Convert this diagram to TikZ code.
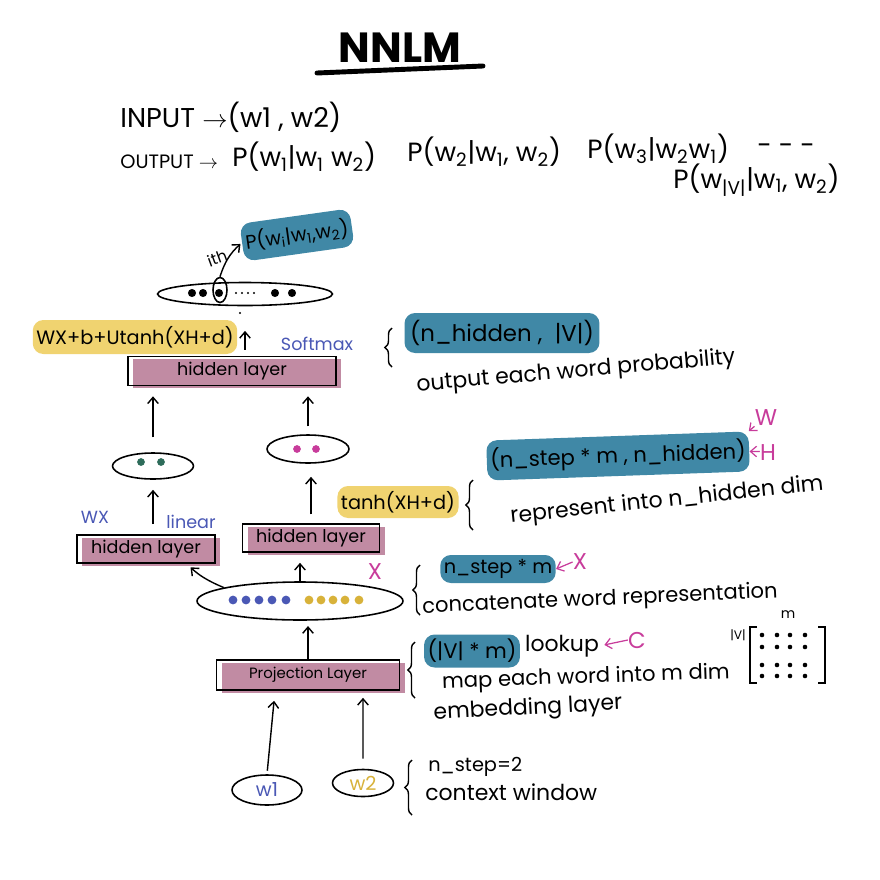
\documentclass[tikz,border=0pt]{standalone}
\usepackage{fontspec}
\setmainfont{Poppins}
\usetikzlibrary{arrows.meta, shapes.geometric, decorations.pathreplacing, positioning}
\definecolor{layerpink}{RGB}{193,139,163}
\definecolor{hlblue}{RGB}{64,136,166}
\definecolor{hlyellow}{RGB}{240,211,112}
\definecolor{penblue}{RGB}{74,88,181}
\definecolor{penyellow}{RGB}{216,178,58}
\definecolor{pengreen}{RGB}{46,108,90}
\definecolor{penmagenta}{RGB}{200,60,155}
\newcommand{\fsz}[1]{\fontsize{#1}{#1}\selectfont}
\tikzset{%
	arr/.style = { -{Straight Barb[length=3.5pt, width=6pt]}, line width=0.8pt },
	brace/.style = { decorate, decoration={brace, amplitude=4pt}, line width=0.8pt },
	layer/.style = { draw, line width=0.9pt, inner sep=0pt, font=\fsz{10},
		preaction={fill=layerpink, transform canvas={xshift=3pt, yshift=-1.5pt}} },
	vec/.style = { ellipse, draw, line width=0.9pt, inner sep=0pt },
	bluehl/.style = { fill=hlblue, rounded corners=6pt, inner sep=2pt },
	yellowhl/.style = { fill=hlyellow, rounded corners=6pt, inner sep=2pt },
	note/.style = { inner sep=0pt, font=\fsz{12.5} },
	pen/.style = { inner sep=0pt, font=\fsz{10}, text=penblue },
	tag/.style = { inner sep=0pt, font=\fsz{13}, text=penmagenta }
}

\begin{document}
\begin{tikzpicture}[x=0.02cm, y=-0.02cm]
	\useasboundingbox[fill=white] (0,0) rectangle (880,880);

	% 1. title
	\node[inner sep=0pt, font=\fsz{24}\bfseries] (title) at (400,48) {NNLM};
	\draw[line width=2.8pt, line cap=round] (317,73) -- (483,66);

	% 2. input / output
	\node[note, anchor=west, font=\fsz{15.5}] (input) at (120,117) {INPUT $\rightarrow$(w1 , w2)};
	\node[note, anchor=west, font=\fsz{11}] (outlab) at (120,162) {OUTPUT $\rightarrow$};
	\node[note, anchor=west, font=\fsz{15}] (p1) at (232,157) {P(w\textsubscript{1}|w\textsubscript{1} w\textsubscript{2})};
	\node[note, anchor=west, font=\fsz{15}] (p2) at (407,152) {P(w\textsubscript{2}|w\textsubscript{1}, w\textsubscript{2})};
	\node[note, anchor=west, font=\fsz{15}] (p3) at (587,149) {P(w\textsubscript{3}|w\textsubscript{2}w\textsubscript{1})};
	\node[note, anchor=west, font=\fsz{15}] (pdots) at (757,149) {- - -};
	\node[note, anchor=west, font=\fsz{15}] (pV) at (673,180) {P(w\textsubscript{|V|}|w\textsubscript{1}, w\textsubscript{2})};

	% 3. output vector
	\node[bluehl, rotate=8, minimum width=2cm, minimum height=0.76cm, font=\fsz{11}] (prob) at (297,235) {P(w\textsubscript{i}|w\textsubscript{1},w\textsubscript{2})};
	\node[vec, minimum width=3.5cm, minimum height=0.46cm] (topvec) at (245,294) {};
	\foreach \x in {192,203,219,275,292} \fill (\x,293) circle (2.3pt);
	\foreach \x in {236,242,248,254} \fill (\x,293) circle (0.6pt);
	\node[vec, minimum width=0.28cm, minimum height=0.5cm] (ith) at (220,290) {};
	\node[note, font=\fsz{9}, rotate=20] (ithlab) at (217,258) {ith};
	\draw[arr, shorten >=1pt] (ith.north) to[bend left=15] (prob.west);

	% 4. softmax layer
	\node[yellowhl, minimum width=3.8cm, minimum height=0.68cm, font=\fsz{11}] (score) at (135,337) {WX+b+Utanh(XH+d)};
	\node[pen] (softmax) at (317,344) {Softmax};
	\node[layer, minimum width=4.16cm, minimum height=0.58cm] (toplayer) at (232,371) {hidden layer};
	\draw[arr, shorten <=3.4pt, shorten >=14pt] (toplayer.north -| topvec.south) -- (topvec.south);
	\fill (240,313) circle (0.7pt);

	% 5. two hidden layers
	\node[vec, minimum width=1.62cm, minimum height=0.52cm] (leftvec) at (153,466) {};
	\node[vec, minimum width=1.64cm, minimum height=0.56cm] (rightvec) at (308,449) {};
	\foreach \x in {141,161} \fill[pengreen] (\x,462) circle (2.2pt);
	\foreach \x in {297,316} \fill[penmagenta] (\x,449) circle (2.2pt);
	\draw[arr, shorten <=8.5pt, shorten >=5.7pt] (leftvec.north) -- (leftvec.north |- toplayer.south);
	\draw[arr, shorten <=4.5pt, shorten >=5.7pt] (rightvec.north) -- (rightvec.north |- toplayer.south);

	\node[layer, minimum width=2.76cm, minimum height=0.56cm] (leftlayer) at (146,549) {hidden layer};
	\node[layer, minimum width=2.74cm, minimum height=0.56cm] (rightlayer) at (311,538) {hidden layer};
	\node[pen] (wx) at (95,517) {WX};
	\node[pen] (linear) at (191,522) {linear};
	\node[yellowhl, minimum width=2.38cm, minimum height=0.64cm, font=\fsz{11}] (tanh) at (398,502) {tanh(XH+d)};
	\draw[arr, shorten <=5.7pt, shorten >=5.7pt] (leftlayer.north -| leftvec.south) -- (leftvec.south);
	\draw[arr, shorten <=5pt, shorten >=7.4pt] (rightlayer.north) -- (rightlayer.north |- rightvec.south);

	% 6. concatenation
	\node[vec, minimum width=4.12cm, minimum height=0.76cm] (concat) at (300,601) {};
	\foreach \x in {233,246,259,272,286} \fill[penblue] (\x,600) circle (2.5pt);
	\foreach \x in {309,321,333,345,359} \fill[penyellow] (\x,600) circle (2.5pt);
	\node[tag] (xlab) at (375,572) {X};
	\draw[arr, shorten >=3pt] (concat.170) to[bend left=10] (leftlayer.-20);
	\draw[arr, shorten >=5.7pt] (concat.north) -- (concat.north |- rightlayer.south);

	% 7. projection and inputs
	\node[layer, minimum width=3.66cm, minimum height=0.6cm, font=\fsz{8.5}] (proj) at (308,675) {Projection Layer};
	\draw[arr, shorten >=3pt] (proj.north) -- (proj.north |- concat.south);
	\node[vec, minimum width=1.4cm, minimum height=0.6cm, font=\fsz{11}, text=penblue] (w1) at (267,790) {w1};
	\node[vec, minimum width=1.22cm, minimum height=0.54cm, font=\fsz{11}, text=penyellow] (w2) at (363,783) {w2};
	\draw[arr, shorten <=2pt, shorten >=5.7pt] (w1.north) -- ([xshift=-0.66cm]proj.south);
	\draw[arr, shorten <=5.7pt, shorten >=4pt] (w2.north) -- ([xshift=1.1cm]proj.south);

	% 8. notes on the right
	\draw[brace] (392,367) -- (392,328);
	\node[bluehl, minimum width=3.9cm, minimum height=0.8cm, font=\fsz{13}] (outdim) at (502,333) {(n\_hidden ,\; |V|)};
	\node[note, rotate=5] (outnote) at (576,372) {output each word probability};

	\node[bluehl, rotate=2, minimum width=4.8cm, minimum height=0.8cm, font=\fsz{12}] (hdim) at (618,456) {(n\_step * m , n\_hidden)};
	\node[tag] (wlab) at (766,418) {W};
	\node[tag] (hlab) at (768,453) {H};
	\draw[arr, penmagenta, line width=0.7pt] (wlab.south west) -- (hdim.north east);
	\draw[arr, penmagenta, line width=0.7pt] (hlab.170) -- (hdim.east);
	\draw[brace] (473,530) -- (473,480);
	\node[note, rotate=6] (hnote) at (667,501) {represent into n\_hidden dim};

	\draw[brace] (420,615) -- (420,565);
	\node[bluehl, minimum width=2.26cm, minimum height=0.56cm, font=\fsz{11}] (xdim) at (498,569) {n\_step * m};
	\node[tag] (xlab2) at (580,562) {X};
	\draw[arr, penmagenta, line width=0.7pt] (xlab2.west) -- (xdim.east);
	\node[note, rotate=2.5, font=\fsz{12}] (cnote) at (600,600) {concatenate word representation};

	\draw[brace] (415,698) -- (415,642);
	\node[bluehl, minimum width=1.82cm, minimum height=0.66cm, font=\fsz{12}] (cdim) at (472,651) {(|V| * m)};
	\node[note] (lookup) at (562,646) {lookup};
	\node[tag] (clab) at (637,640) {C};
	\draw[arr, penmagenta, line width=0.7pt, shorten >=3pt] (clab.west) -- (lookup.east);
	\node[note, rotate=2, font=\fsz{12}] (mapnote) at (586,678) {map each word into m dim};
	\node[note, rotate=3] (embnote) at (528,709) {embedding layer};
	% lookup matrix
	\draw[line width=0.8pt] (757,627) -- (750,627) -- (750,683) -- (757,683);
	\draw[line width=0.8pt] (818,627) -- (825,627) -- (825,683) -- (818,683);
	\foreach \x in {762,777,790,805}
		\foreach \y in {635,647,665,676}
			\fill (\x,\y) circle (1.3pt);
	\node[note, font=\fsz{7}] (vrows) at (738,635) {|V|};
	\node[note, font=\fsz{8}] (mcols) at (788,615) {m};

	\draw[brace] (412,815) -- (412,760);
	\node[note, anchor=west, font=\fsz{11}] (stepnote) at (428,767) {n\_step=2};
	\node[note, anchor=west] (winnote) at (425,792) {context window};
\end{tikzpicture}
\end{document}
